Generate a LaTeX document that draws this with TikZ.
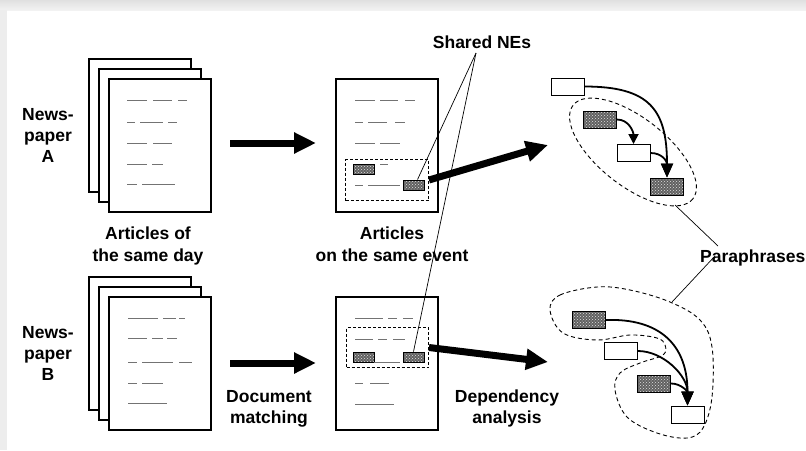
\documentclass[tikz,border=0pt]{standalone}
\usepackage{fontspec}
\setmainfont{Liberation Sans}
\usetikzlibrary{arrows.meta,patterns,calc}
\begin{document}
\begin{tikzpicture}[x=1pt,y=-1pt,
  lbl/.style={font=\bfseries\fontsize{17.5}{21}\selectfont, align=center, inner sep=0pt},
  lbl2/.style={lbl, font=\bfseries\fontsize{17.5}{22}\selectfont},
  sheet/.style={draw, line width=2pt, fill=white, minimum width=102pt, minimum height=133pt, inner sep=0pt, anchor=north west},
  txt/.style={draw=black!55, line width=1pt},
  sel/.style={draw, line width=1pt, dash pattern=on 3pt off 2pt, inner sep=0pt, anchor=north west},
  ne/.style={draw, line width=0.8pt, preaction={fill=black!62}, pattern=crosshatch dots, pattern color=black!12, minimum width=21pt, minimum height=10pt, inner sep=0pt},
  wbox/.style={draw, line width=1pt, fill=white, minimum width=33pt, minimum height=17pt, inner sep=0pt},
  gbox/.style={draw, line width=1pt, preaction={fill=black!62}, pattern=crosshatch dots, pattern color=black!12, minimum width=33pt, minimum height=17pt, inner sep=0pt},
  flow/.style={line width=7pt, -{Triangle[length=22pt,width=20pt]}},
  dep/.style={line width=1.8pt, -{Triangle[length=14pt,width=12pt]}},
  leader/.style={line width=0.7pt},
  group/.style={line width=0.9pt, dash pattern=on 4pt off 3pt}
]
\useasboundingbox (0,0) rectangle (806,450);
\fill[white] (0,0) rectangle (806,450);
% soft grey frame at the top and on the left
\shade[top color=black!12, bottom color=black!5] (0,0) rectangle (806,10);
\fill[black!7] (0,10) rectangle (7,450);

% ---- newspaper A: stack of articles ----
\node[sheet] (a3) at (88,58) {};
\node[sheet] (a2s) at (98,68) {};
\node[sheet] (a1s) at (108,78) {};
\foreach \y/\segs in {100/{127/147,153/172,178/187}, 122/{127/135,140/163,168/177},
                      143/{127/147,153/172}, 164/{127/147,152/163}, 184/{127/137,142/175}}
  \foreach \a/\b in \segs \draw[txt] (\a,\y) -- (\b,\y);

% ---- newspaper B: stack of articles ----
\node[sheet] (b3) at (88,276) {};
\node[sheet] (b2s) at (98,286) {};
\node[sheet] (b1s) at (108,296) {};
\foreach \y/\segs in {318/{128/158,163/176,179/185}, 338/{128/147,152/163,167/177},
                      362/{128/137,142/173,179/192}, 383/{128/137,142/163}, 403/{128/167}}
  \foreach \a/\b in \segs \draw[txt] (\a,\y) -- (\b,\y);

% ---- matched article A ----
\node[sheet] (docA) at (335,78) {};
\foreach \y/\segs in {100/{355/375,380/398,405/415}, 122/{355/363,368/387,395/405},
                      143/{355/375,380/400}, 164/{380/388}, 185/{355/363,368/400}}
  \foreach \a/\b in \segs \draw[txt] (\a,\y) -- (\b,\y);
\node[sel, minimum width=83pt, minimum height=41pt] (selA) at (345,159) {};
\node[ne] (na1) at (363.5,169) {};
\node[ne] (na2) at (413.5,185) {};

% ---- matched article B ----
\node[sheet] (docB) at (335,296) {};
\foreach \y/\segs in {318/{355/383,388/397,403/413}, 339/{355/373,378/387,393/405},
                      383/{355/363,370/389}, 404/{355/394}}
  \foreach \a/\b in \segs \draw[txt] (\a,\y) -- (\b,\y);
\node[sel, minimum width=82pt, minimum height=40pt] (selB) at (346,327) {};
\node[ne] (nb1) at (363.5,357) {};
\node[ne] (nb2) at (413.5,357) {};
\draw[txt] (nb1.south east) -- ++(26,0);

% ---- labels (anchored at the baseline of the last line) ----
\node[lbl, anchor=base] (npA) at (48,162) {News-\\paper\\A};
\node[lbl, anchor=base] (npB) at (48,380) {News-\\paper\\B};
\node[lbl2, anchor=base] (sameday) at (148,261) {Articles of\\the same day};
\node[lbl2, anchor=base] (sameevent) at (392,261) {Articles\\on the same event};
\node[lbl, anchor=base] (docmatch) at (269,423) {Document\\matching};
\node[lbl, anchor=base] (deppars) at (507,423) {Dependency\\analysis};
\node[lbl, anchor=base] (shared) at (482,48) {Shared NEs};
\node[lbl, anchor=base west] (para) at (700,262) {Paraphrases};

% ---- processing arrows ----
\draw[flow, shorten <=18pt, shorten >=19pt] (a1s.east |- 0,143) -- (docA.west |- 0,143);
\draw[flow, shorten <=18pt, shorten >=19pt] (b1s.east |- 0,363) -- (docB.west |- 0,363);
\coordinate (tipA) at (548,145);
\coordinate (tipB) at (548,362);
\draw[flow] (selA.east) -- (tipA);
\draw[flow] (selB.east) -- (tipB);

% ---- shared named entities ----
\coordinate (apex) at (476,53);
\draw[leader] (apex) -- ($(na2.north)+(4,0)$);
\draw[leader] (apex) -- (nb2.north);

% ---- dependency structure A ----
\node[wbox] (wa1) at (567.5,86.5) {};
\node[gbox] (ga1) at (600,119.5) {};
\node[wbox] (wa2) at (633.5,153) {};
\node[gbox] (ga2) at (667,186.5) {};
\draw[group, rotate around={-38:(633,152)}] (633,152) ellipse [x radius=76, y radius=34];
\draw[dep] (wa1.east) .. controls (650,86.5) and (667,110) .. (ga2.north);
\draw[dep] (wa2.east) .. controls +(12,0) and +(0,-16) .. (ga2.north);
\draw[dep, -{Triangle[length=10pt,width=10pt]}] (ga1.east) .. controls +(12,0) and +(0,-12) .. (wa2.north);

% ---- dependency structure B ----
\node[gbox] (gb1) at (588.5,320) {};
\node[wbox] (wb1) at (621,351) {};
\node[gbox] (gb2) at (654,383.5) {};
\node[wbox] (wb2) at (687.5,414.5) {};
\draw[group] plot[smooth cycle, tension=0.6] coordinates {
  (550,310) (560,295) (597,287) (630,290) (670,302) (700,320) (712,347)
  (712,397) (703,428) (687,438) (657,433) (627,417) (615,390) (620,373)
  (640,363) (663,355) (665,345) (657,338) (630,335) (597,340) (563,333)};
\draw[dep] (gb1.east) .. controls (660,318) and (687.5,345) .. (wb2.north);
\draw[dep] (wb1.east) .. controls +(25,0) and +(0,-30) .. (wb2.north);
\draw[dep] (gb2.east) .. controls +(10,0) and +(0,-14) .. (wb2.north);

% ---- paraphrase leaders ----
\coordinate (pa) at (675,205);
\coordinate (pb) at (672,302);
\draw[leader] (pa) -- (718,246);
\draw[leader] (715,256) -- (pb);
\end{tikzpicture}
\end{document}
